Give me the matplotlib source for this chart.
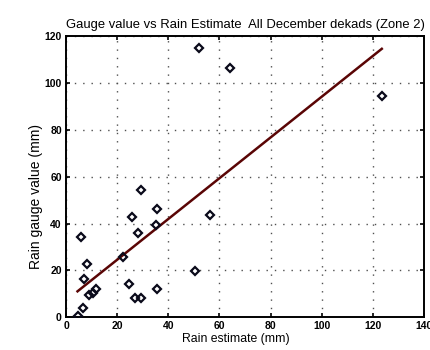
import numpy as np
import matplotlib
matplotlib.use("Agg")
import matplotlib.pyplot as plt

plt.rcParams['font.family'] = ['Liberation Sans', 'DejaVu Sans']

# Rain estimate (mm) vs gauge value (mm), December dekads, zone 2
rain_estimate = [4.5, 6.5, 5.7, 8.1, 7.0, 9.1, 10.4, 11.7, 22.2, 24.8, 25.7, 27.0,
                 29.2, 28.2, 29.5, 35.7, 35.1, 35.7, 50.5, 56.4, 51.9, 64.2, 123.5]
gauge_value = [0.5, 4.0, 34.2, 22.7, 16.1, 9.4, 10.4, 11.9, 25.8, 14.1, 43.0, 8.0,
               8.2, 36.0, 54.3, 46.0, 39.3, 11.8, 19.8, 43.6, 115.2, 106.6, 94.4]

x_ticks = [0, 20, 40, 60, 80, 100, 120, 140]
y_ticks = [0, 20, 40, 60, 80, 100, 120]

x = np.array(rain_estimate)
y = np.array(gauge_value)
slope, intercept = np.polyfit(x, y, 1)
xl = np.array([x.min(), x.max()])

fig = plt.figure(figsize=(4.3, 3.5), dpi=100)
ax = fig.add_axes([0.1535, 0.094, 0.8325, 0.802])

ax.plot(xl, slope * xl + intercept, color='#5a0505', lw=1.8, zorder=2)
ax.plot(x, y, linestyle='none', marker='D', markersize=4.2, markerfacecolor='none',
        markeredgecolor='#0a0a1a', markeredgewidth=1.6, zorder=3)

ax.set_xlim(0, 140)
ax.set_ylim(0, 120)
ax.set_xticks(x_ticks)
ax.set_yticks(y_ticks)
ax.grid(True, linestyle=(0, (1, 5)), color='#505050', linewidth=1.0)
ax.tick_params(direction='in', top=True, right=True, length=3, width=1.2,
               labelsize=7.5, pad=3)
for lab in ax.get_xticklabels() + ax.get_yticklabels():
    lab.set_fontweight('bold')
for s in ax.spines.values():
    s.set_linewidth(1.4)

ax.set_title('Gauge value vs Rain Estimate  All December dekads (Zone 2)',
             fontsize=9.4, pad=6)
ax.set_xlabel('Rain estimate (mm)', fontsize=8.8)
ax.set_ylabel('Rain gauge value (mm)', fontsize=10)
ax.xaxis.set_label_coords(0.475, -0.055)
ax.yaxis.set_label_coords(-0.065, 0.43)

fig.savefig('out.png', dpi=100)
